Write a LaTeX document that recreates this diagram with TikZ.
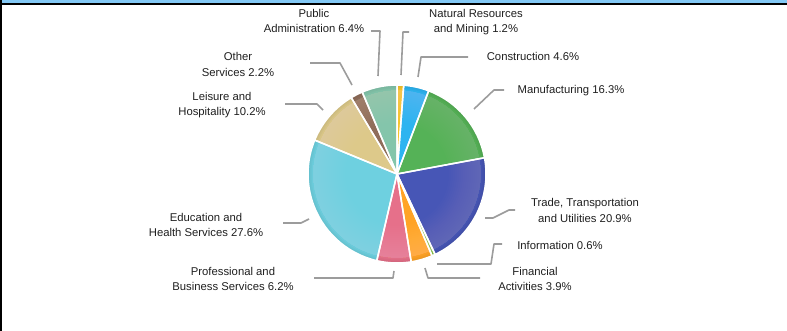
\documentclass[tikz,border=0pt]{standalone}
\usepackage{fontspec}
\setmainfont{Liberation Sans}
\definecolor{skyband}{HTML}{82C8F5}
\definecolor{cNR}{HTML}{F6C42C}
\definecolor{cCon}{HTML}{2DB4F0}
\definecolor{cMan}{HTML}{55B257}
\definecolor{cTra}{HTML}{4756B6}
\definecolor{cInf}{HTML}{8BC34A}
\definecolor{cFin}{HTML}{FFA326}
\definecolor{cPro}{HTML}{E6708A}
\definecolor{cEdu}{HTML}{6ED0E0}
\definecolor{cLei}{HTML}{DDC98A}
\definecolor{cOth}{HTML}{8F6D5A}
\definecolor{cPub}{HTML}{84C5AB}
\definecolor{leadgray}{HTML}{9C9C9C}
\begin{document}
\begin{tikzpicture}[x=1pt,y=-1pt,
  lbl/.style={font=\fontsize{11.3}{15.5}\selectfont, align=center, inner sep=0pt, text=black!88},
  leader/.style={draw=leadgray, line width=1.6pt, line join=round},
  slice/.style={draw=white, line width=1.5pt, line join=round}]
\useasboundingbox (0,0) rectangle (787,331);
\fill[skyband] (0,0) rectangle (787,3);
\fill[black] (0,3) rectangle (787,5);
\fill[black] (0,0) rectangle (2,331);
% pie
\coordinate (pc) at (397,174);
\foreach \a/\b/\col in {0/1.2/cNR, 1.2/5.8/cCon, 5.8/22.1/cMan, 22.1/43.0/cTra, 43.0/43.6/cInf, 43.6/47.5/cFin, 47.5/53.7/cPro, 53.7/81.3/cEdu, 81.3/91.5/cLei, 91.5/93.7/cOth, 93.7/100.1/cPub}{
  \fill[fill=\col] (pc) -- ++({90-\a*3.5964}:89pt) arc[start angle={90-\a*3.5964}, end angle={90-\b*3.5964}, radius=89pt] -- cycle;
}
% soft glossy rim effect
\foreach \r in {52,54,...,82}{
  \fill[white, opacity=0.011, even odd rule] (pc) circle[radius=84pt] (pc) circle[radius=\r pt];
}
\foreach \r in {84,85.5,87}{
  \fill[black, opacity=0.025, even odd rule] (pc) circle[radius=89pt] (pc) circle[radius=\r pt];
}
% separators
\foreach \a/\b in {0/1.2, 1.2/5.8, 5.8/22.1, 22.1/43.0, 43.0/43.6, 43.6/47.5, 47.5/53.7, 53.7/81.3, 81.3/91.5, 91.5/93.7, 93.7/100.1}{
  \draw[slice] (pc) -- ++({90-\a*3.5964}:89pt) arc[start angle={90-\a*3.5964}, end angle={90-\b*3.5964}, radius=89pt] -- cycle;
}
% labels
\node[lbl] (pub) at (314,21) {Public\\Administration 6.4\%};
\node[lbl] (nr) at (476,22) {Natural Resources\\and Mining 1.2\%};
\node[lbl] (con) at (533,56) {Construction 4.6\%};
\node[lbl] (oth) at (238,64.5) {Other\\Services 2.2\%};
\node[lbl] (man) at (571,91) {Manufacturing 16.3\%};
\node[lbl] (lei) at (222,105) {Leisure and\\Hospitality 10.2\%};
\node[lbl] (tra) at (585,210.5) {Trade, Transportation\\and Utilities 20.9\%};
\node[lbl] (edu) at (206,225) {Education and\\Health Services 27.6\%};
\node[lbl] (inf) at (560,245) {Information 0.6\%};
\node[lbl] (pro) at (233,279) {Professional and\\Business Services 6.2\%};
\node[lbl] (fin) at (535,279) {Financial\\Activities 3.9\%};
% leader coordinates
\coordinate (pubA) at (371,31); \coordinate (pubB) at (380,31); \coordinate (pubC) at (378,76);
\coordinate (nrA) at (409,32); \coordinate (nrB) at (403,32); \coordinate (nrC) at (401,75);
\coordinate (conA) at (468,57); \coordinate (conB) at (421,57); \coordinate (conC) at (418,77);
\coordinate (manA) at (504,90); \coordinate (manB) at (494,90); \coordinate (manC) at (474,109);
\coordinate (traA) at (515,210); \coordinate (traB) at (509,210); \coordinate (traC) at (493,218); \coordinate (traD) at (485,218);
\coordinate (infA) at (502,244); \coordinate (infB) at (494,244); \coordinate (infC) at (491,264); \coordinate (infD) at (437,264);
\coordinate (finA) at (480,278); \coordinate (finB) at (428,278); \coordinate (finC) at (425,268);
\coordinate (proA) at (314,278); \coordinate (proB) at (393,278); \coordinate (proC) at (394,271);
\coordinate (eduA) at (283,223); \coordinate (eduB) at (301,223); \coordinate (eduC) at (309,219);
\coordinate (leiA) at (285,104); \coordinate (leiB) at (317,104); \coordinate (leiC) at (323,110);
\coordinate (othA) at (310,63); \coordinate (othB) at (340,63); \coordinate (othC) at (352,85);
\draw[leader] (pubA) -- (pubB) -- (pubC);
\draw[leader] (nrA) -- (nrB) -- (nrC);
\draw[leader] (conA) -- (conB) -- (conC);
\draw[leader] (manA) -- (manB) -- (manC);
\draw[leader] (traA) -- (traB) -- (traC) -- (traD);
\draw[leader] (infA) -- (infB) -- (infC) -- (infD);
\draw[leader] (finA) -- (finB) -- (finC);
\draw[leader] (proA) -- (proB) -- (proC);
\draw[leader] (eduA) -- (eduB) -- (eduC);
\draw[leader] (leiA) -- (leiB) -- (leiC);
\draw[leader] (othA) -- (othB) -- (othC);
\end{tikzpicture}
\end{document}
